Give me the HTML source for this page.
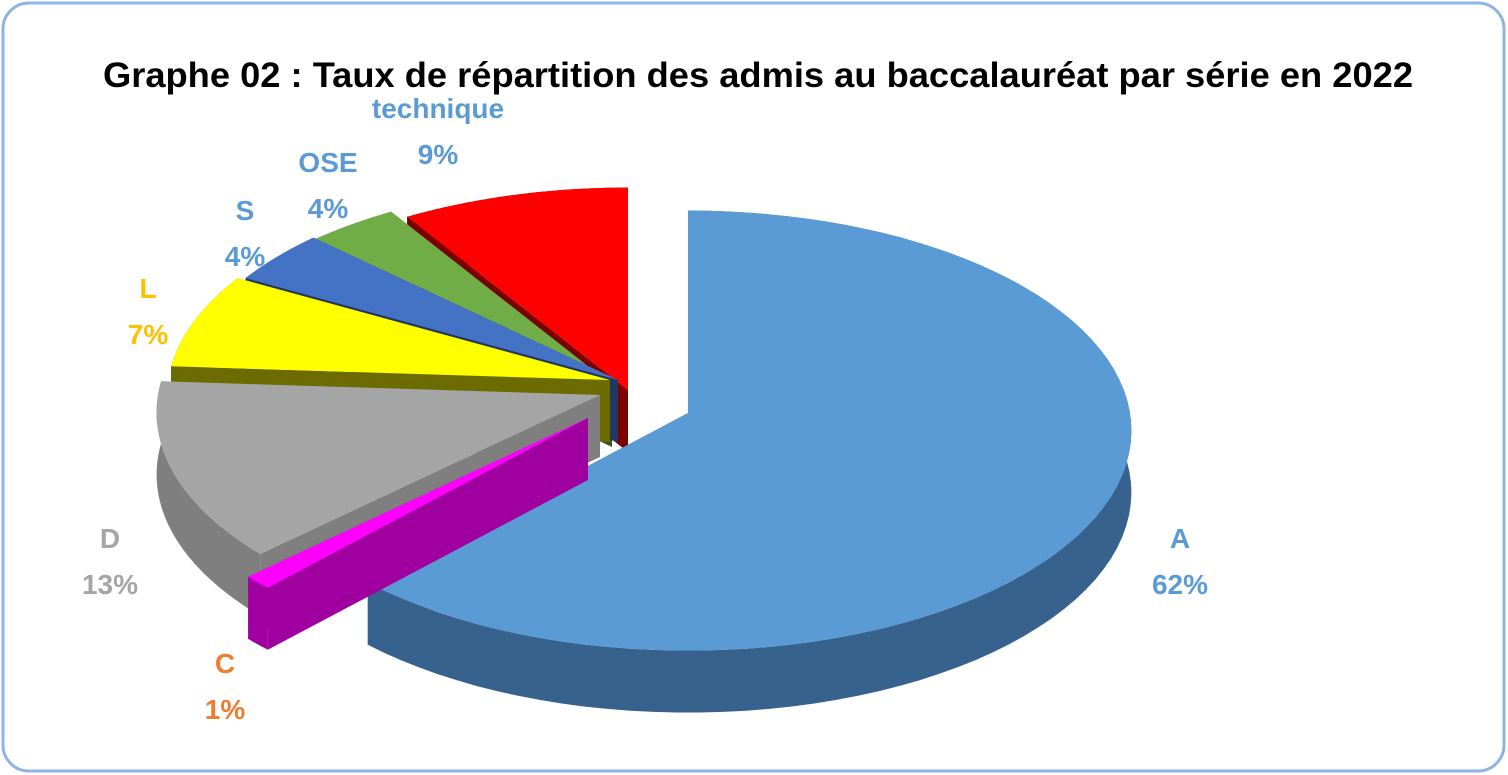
<!DOCTYPE html>
<html><head><meta charset="utf-8">
<style>
html,body{margin:0;padding:0;background:#fff;}
#wrap{position:relative;width:1508px;height:775px;overflow:hidden;font-family:"Liberation Sans",sans-serif;}
</style></head>
<body>
<div id="wrap">
<svg id="chart" width="1508" height="775" viewBox="0 0 1508 775">
  <rect x="3" y="3" width="1501" height="768" rx="26" fill="#fff" stroke="#8eb4e3" stroke-width="3"/>
  <text x="758" y="87" text-anchor="middle" font-size="35" font-weight="bold" fill="#000" textLength="1310" lengthAdjust="spacingAndGlyphs">Graphe 02 : Taux de répartition des admis au baccalauréat par série en 2022</text>
  <g id="slices"></g>
  <g id="labels"></g>
</svg>
</div>
<script>
const categories = ["A","C","D","L","S","OSE","technique"];
const values = [62,1,13,7,4,4,9];
const valueLabels = ["62%","1%","13%","7%","4%","4%","9%"];

const topColors = ["#5b9bd5","#ff00ff","#a5a5a5","#ffff00","#4472c4","#70ad47","#ff0000"];
const sideColors = ["#37628d","#a000a0","#7f7f7f","#6b6b00","#1f3864","#375623","#7a0000"];
const labelColors = ["#5b9bd5","#ed7d31","#a5a5a5","#ffc000","#5b9bd5","#5b9bd5","#5b9bd5"];
// slice vertex positions (layout only)
const centersX = [688,588,600,610,618,612,628];
const centersY = [413,418,395,380,380,385,390];
const labelX = [1180,225,110,148,245,328,438];
const labelY = [548,673,548,298,220,172,118];

const RX=442, RY=220, DEPTH=62, K=0.08;
const NS="http://www.w3.org/2000/svg";
function proj(cx,cy,a,dz){const u=Math.sin(a),v=-Math.cos(a),s=1+K*v;return [cx+RX*u*s,cy+RY*v*s+dz];}
function mk(tag,attrs,parent){const e=document.createElementNS(NS,tag);for(const k in attrs)e.setAttribute(k,attrs[k]);parent.appendChild(e);return e;}
const total=values.reduce((a,b)=>a+b,0);
const starts=[];let acc=0;
values.forEach(v=>{starts.push(acc/total*2*Math.PI);acc+=v;});
const order=[6,5,4,3,2,0,1];
const g=document.getElementById('slices');
order.forEach(i=>{
  const a1=starts[i], a2=a1+values[i]/total*2*Math.PI, cx=centersX[i], cy=centersY[i];
  const grp=mk('g',{},g);
  
  
  [a1,a2].forEach(a=>{
    const p=proj(cx,cy,a,0),q=proj(cx,cy,a,DEPTH);
    mk('path',{d:`M${cx},${cy}L${p[0]},${p[1]}L${q[0]},${q[1]}L${cx},${cy+DEPTH}Z`,fill:sideColors[i]},grp);
  });
  const n=80;let top=[],bot=[];
  for(let k=0;k<=n;k++){const a=a1+(a2-a1)*k/n;top.push(proj(cx,cy,a,0));bot.push(proj(cx,cy,a,DEPTH));}
  let d='M'+top.map(p=>p[0].toFixed(1)+','+p[1].toFixed(1)).join('L')+'L'+bot.reverse().map(p=>p[0].toFixed(1)+','+p[1].toFixed(1)).join('L')+'Z';
  mk('path',{d:d,fill:sideColors[i]},grp);
  let t='M'+cx+','+cy+'L'+top.map(p=>p[0].toFixed(1)+','+p[1].toFixed(1)).join('L')+'Z';
  mk('path',{d:t,fill:topColors[i]},grp);
});
const lg=document.getElementById('labels');
categories.forEach((c,i)=>{
  const t=mk('text',{x:labelX[i],y:labelY[i],'text-anchor':'middle','font-size':'28','font-weight':'bold',fill:labelColors[i]},lg);
  
  
  const s1=mk('tspan',{x:labelX[i]},t);s1.textContent=c;
  const s2=mk('tspan',{x:labelX[i],dy:'46'},t);s2.textContent=valueLabels[i];
});
</script>
</body></html>
